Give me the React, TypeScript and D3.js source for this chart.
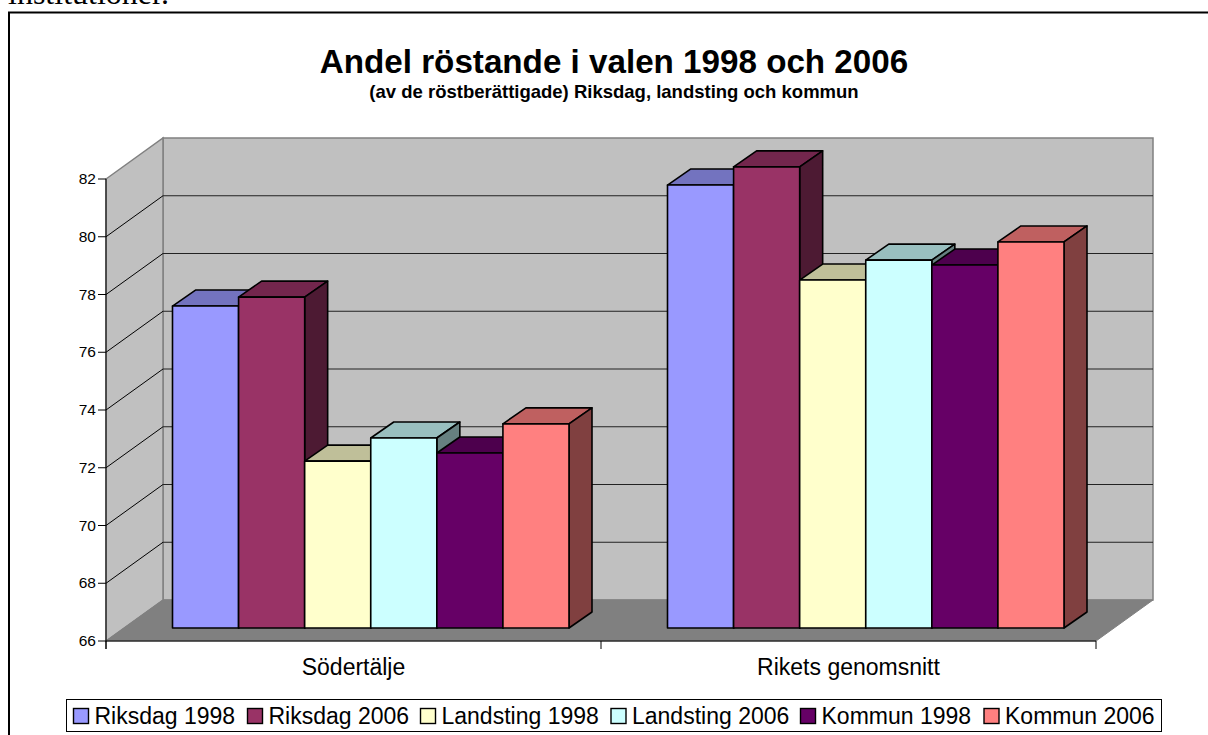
import React from "react";
import * as d3 from "d3";

const categories = ["Södertälje", "Rikets genomsnitt"];
const seriesNames = ["Riksdag 1998", "Riksdag 2006", "Landsting 1998", "Landsting 2006", "Kommun 1998", "Kommun 2006"];
const seriesColors = ["#9999FF", "#993366", "#FFFFCC", "#CCFFFF", "#660066", "#FF8080"];
const sodertalje = [77.15, 77.46, 71.78, 72.58, 72.06, 73.07];
const riket = [81.34, 81.97, 78.05, 78.74, 78.57, 79.37];
const groupValues = [sodertalje, riket];
const yTicks = [66, 68, 70, 72, 74, 76, 78, 80, 82];
const title = "Andel röstande i valen 1998 och 2006";
const subtitle = "(av de röstberättigade) Riksdag, landsting och kommun";
const legendX = [73.5, 247.5, 420.5, 611, 800.5, 984];

const W = 1208, H = 735;
const x0 = 106, x1 = 1096, yBottom = 641, yTop = 179;
const wallDx = 57, wallDy = -41;
const barDx = 23, barDy = -16;
const barBase = 628;

const y = d3.scaleLinear().domain([66, 82]).range([yBottom, yTop]);
const cat = d3.scaleBand<string>().domain(categories).range([x0, x1]);
const barY = (v: number) => y(v) - (yBottom - barBase);

const shade = (c: string, k: number) => {
  const r = d3.rgb(c);
  return d3.rgb(r.r * k, r.g * k, r.b * k).formatHex();
};
const pts = (p: number[][]) => p.map((q) => q.join(",")).join(" ");
const sans = "'Liberation Sans', Arial, sans-serif";

export default function App() {
  return (
    <svg width={W} height={H} viewBox={`0 0 ${W} ${H}`} style={{ position: "fixed", left: 0, top: 0, display: "block", background: "#fff" }}>
      <text x={8} y={4} fontFamily="'Liberation Serif', serif" fontSize={32} fill="#000">institutioner.</text>
      <rect x={9} y={12.5} width={1300} height={800} fill="#fff" stroke="#000" strokeWidth={2} />

      <text x={614} y={73} textAnchor="middle" fontFamily={sans} fontWeight="bold" fontSize={33.2}>{title}</text>
      <text x={614} y={98} textAnchor="middle" fontFamily={sans} fontWeight="bold" fontSize={18.5}>{subtitle}</text>

      {/* walls */}
      <polygon points={pts([[x0 + wallDx, yTop + wallDy], [x1 + wallDx, yTop + wallDy], [x1 + wallDx, yBottom + wallDy], [x0 + wallDx, yBottom + wallDy]])} fill="#C0C0C0" stroke="#808080" strokeWidth={1.5} />
      <polygon points={pts([[x0, yTop], [x0 + wallDx, yTop + wallDy], [x0 + wallDx, yBottom + wallDy], [x0, yBottom]])} fill="#C0C0C0" stroke="#808080" strokeWidth={1.5} />
      <polygon points={pts([[x0, yBottom], [x0 + wallDx, yBottom + wallDy], [x1 + wallDx, yBottom + wallDy], [x1, yBottom]])} fill="#808080" stroke="#808080" />

      {/* gridlines */}
      {yTicks.slice(1, -1).map((t) => (
        <g key={t}>
          <path d={`M${x0},${y(t)}L${x0 + wallDx},${y(t) + wallDy}`} stroke="#000" strokeWidth={1} fill="none" />
          <path d={`M${x0 + wallDx},${y(t) + wallDy}H${x1 + wallDx}`} stroke="#222" strokeWidth={1} fill="none" />
        </g>
      ))}

      {/* bars */}
      {categories.map((c, ci) => {
        const left = cat(c)! + 66.5;
        const band = d3.scaleBand<string>().domain(seriesNames).range([left, left + 396.5]);
        return (
          <g key={c}>
            {seriesNames.map((s, si) => {
              const xa = band(s)!;
              const w = band.bandwidth();
              const top = barY(groupValues[ci][si]);
              const col = seriesColors[si];
              return (
                <g key={s} stroke="#000" strokeWidth={1.6} strokeLinejoin="round">
                  <polygon points={pts([[xa, top], [xa + barDx, top + barDy], [xa + w + barDx, top + barDy], [xa + w, top]])} fill={shade(col, 0.75)} />
                  <polygon points={pts([[xa + w, top], [xa + w + barDx, top + barDy], [xa + w + barDx, barBase + barDy], [xa + w, barBase]])} fill={shade(col, 0.5)} />
                  <rect x={xa} y={top} width={w} height={barBase - top} fill={col} />
                </g>
              );
            })}
          </g>
        );
      })}

      {/* axes */}
      <path d={`M${x0},${yTop}V${yBottom + 8}`} stroke="#000" strokeWidth={1} fill="none" />
      <path d={`M${x0},${yBottom}H${x1}`} stroke="#000" strokeWidth={1} fill="none" />
      {[x0, ...categories.map((c) => cat(c)! + cat.bandwidth())].map((t, i) => (
        <path key={i} d={`M${t},${yBottom}V${yBottom + 8}`} stroke="#000" strokeWidth={1} fill="none" />
      ))}
      {yTicks.map((t) => (
        <g key={t}>
          <path d={`M${x0 - 8},${y(t)}H${x0}`} stroke="#000" strokeWidth={1} />
          <text x={x0 - 10} y={y(t) + 5} textAnchor="end" fontFamily={sans} fontSize={15.5}>{t}</text>
        </g>
      ))}
      {categories.map((c) => (
        <text key={c} x={cat(c)! + cat.bandwidth() / 2} y={675} textAnchor="middle" fontFamily={sans} fontSize={23}>{c}</text>
      ))}

      {/* legend */}
      <rect x={66.5} y={699.5} width={1095} height={32} fill="#fff" stroke="#000" strokeWidth={1} />
      {seriesNames.map((s, i) => (
        <g key={s}>
          <rect x={legendX[i]} y={708.5} width={15} height={15} fill={seriesColors[i]} stroke="#000" strokeWidth={1.4} />
          <text x={legendX[i] + 21} y={724} fontFamily={sans} fontSize={23}>{s}</text>
        </g>
      ))}
    </svg>
  );
}
